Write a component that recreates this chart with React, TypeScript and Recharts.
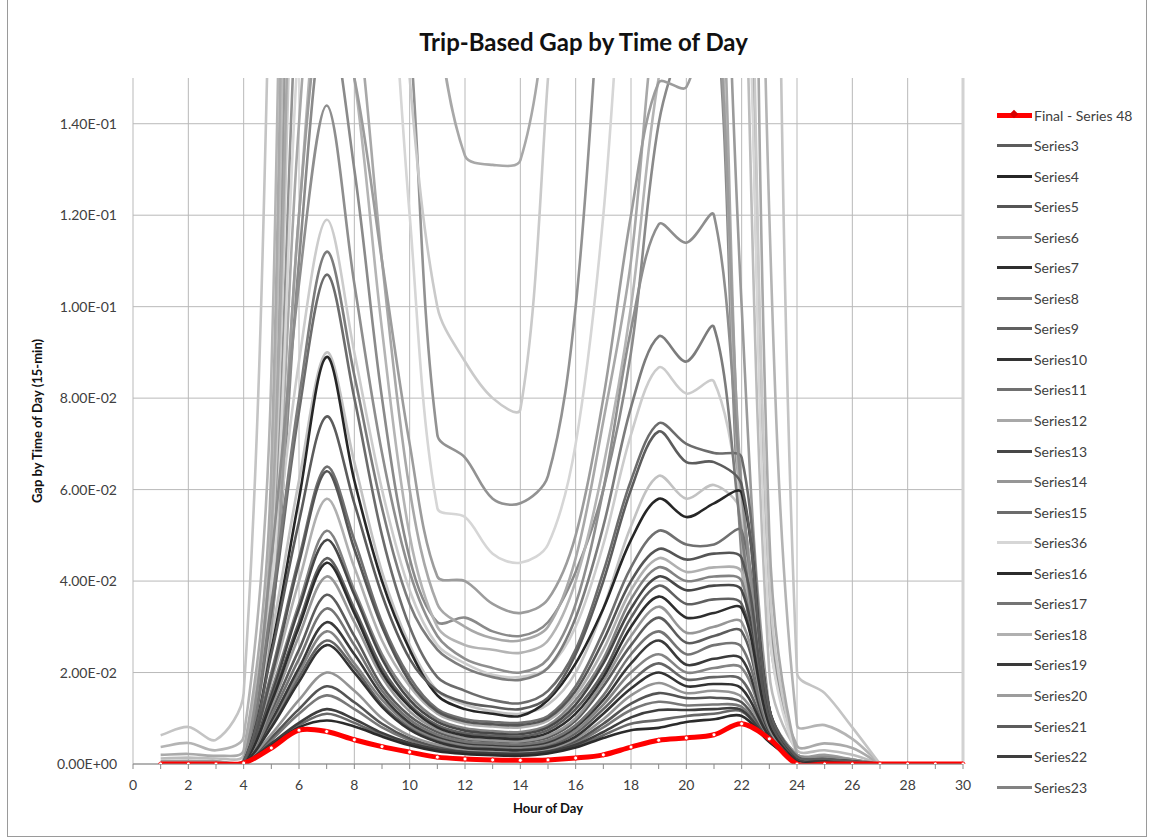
import React from 'react'
import { LineChart, Line, XAxis, YAxis, CartesianGrid, ReferenceLine } from 'recharts'

// hour of day, 1..30
const HOURS = [1, 2, 3, 4, 5, 6, 7, 8, 9, 10, 11, 12, 13, 14, 15, 16, 17, 18, 19, 20, 21, 22, 23, 24, 25, 26, 27, 28, 29, 30]
const X_TICKS = [0, 1, 2, 3, 4, 5, 6, 7, 8, 9, 10, 11, 12, 13, 14, 15, 16, 17, 18, 19, 20, 21, 22, 23, 24, 25, 26, 27, 28, 29, 30]
const X_GRID = [0, 2, 4, 6, 8, 10, 12, 14, 16, 18, 20, 22, 24, 26, 28, 30]
const Y_TICKS = [0, 0.02, 0.04, 0.06, 0.08, 0.1, 0.12, 0.14]

const final48 = [0, 0, 0, 0.0002, 0.0035, 0.0074, 0.0071, 0.0053, 0.0038, 0.0026, 0.0015, 0.0011, 0.0009, 0.0008, 0.0009, 0.0013, 0.002, 0.0037, 0.0052, 0.0057, 0.0064, 0.0088, 0.0055, 0, 0, 0, 0, 0, 0, 0]

const series3 = [0, 0, 0, 0.0005, 0.024, 0.053, 0.076, 0.057, 0.037, 0.023, 0.016, 0.0135, 0.0125, 0.012, 0.0145, 0.024, 0.04, 0.06, 0.0727, 0.066, 0.066, 0.061, 0.012, 0.0016, 0.0011, 0.0006, 0]
const series4 = [0, 0, 0, 0.0005, 0.025, 0.058, 0.089, 0.062, 0.04, 0.025, 0.015, 0.012, 0.011, 0.0105, 0.014, 0.022, 0.034, 0.049, 0.058, 0.054, 0.057, 0.0593, 0.012, 0.0015, 0.001, 0.0006, 0]
const series5 = [0, 0, 0, 0.0005, 0.019, 0.044, 0.064, 0.047, 0.03, 0.018, 0.0115, 0.0093, 0.0087, 0.0085, 0.01, 0.016, 0.027, 0.04, 0.047, 0.0447, 0.046, 0.045, 0.01, 0.0014, 0.001, 0.0005, 0]
const series6 = [0, 0, 0, 0.0006, 0.045, 0.105, 0.144, 0.105, 0.068, 0.042, 0.028, 0.023, 0.021, 0.02, 0.023, 0.035, 0.06, 0.095, 0.118, 0.114, 0.12, 0.06, 0.012, 0.002, 0.0015, 0.001, 0]
const series7 = [0, 0, 0, 0.0004, 0.0135, 0.03, 0.044, 0.033, 0.02, 0.0125, 0.008, 0.0062, 0.0057, 0.0055, 0.0068, 0.011, 0.019, 0.03, 0.0366, 0.032, 0.033, 0.034, 0.0085, 0.0013, 0.0009, 0.0005, 0]
const series8 = [0, 0, 0, 0.0006, 0.035, 0.08, 0.112, 0.085, 0.056, 0.035, 0.025, 0.021, 0.019, 0.0184, 0.021, 0.032, 0.052, 0.078, 0.0935, 0.088, 0.0955, 0.05, 0.011, 0.0018, 0.0012, 0.0008, 0]
const series9 = [0, 0, 0, 0.0004, 0.014, 0.031, 0.045, 0.034, 0.021, 0.013, 0.0085, 0.0067, 0.0062, 0.006, 0.0074, 0.012, 0.02, 0.032, 0.039, 0.035, 0.036, 0.035, 0.009, 0.0013, 0.0009, 0.0005, 0]
const series10 = [0, 0, 0, 0.0003, 0.008, 0.018, 0.026, 0.02, 0.0125, 0.0075, 0.0048, 0.0035, 0.0032, 0.003, 0.0036, 0.006, 0.011, 0.0165, 0.02, 0.017, 0.0175, 0.0165, 0.006, 0.001, 0.0007, 0.0004, 0]
const series11 = [0, 0, 0, 0.0005, 0.02, 0.045, 0.065, 0.049, 0.031, 0.019, 0.012, 0.0098, 0.0092, 0.009, 0.0105, 0.017, 0.029, 0.043, 0.051, 0.048, 0.048, 0.051, 0.011, 0.0015, 0.001, 0.0006, 0]
const series12 = [0, 0, 0, 0.0008, 0.05, 0.25, 0.4, 0.42, 0.35, 0.25, 0.165, 0.133, 0.131, 0.132, 0.17, 0.25, 0.32, 0.38, 0.42, 0.42, 0.4, 0.35, 0.05, 0.002, 0.0015, 0.001, 0]
const series13 = [0, 0, 0, 0.0004, 0.015, 0.034, 0.049, 0.037, 0.023, 0.014, 0.0092, 0.0073, 0.0067, 0.0065, 0.008, 0.013, 0.022, 0.034, 0.041, 0.038, 0.039, 0.038, 0.009, 0.0013, 0.0009, 0.0005, 0]
const series14 = [0, 0, 0, 0.0004, 0.0125, 0.028, 0.041, 0.031, 0.019, 0.0115, 0.0075, 0.0057, 0.0052, 0.005, 0.0062, 0.01, 0.018, 0.028, 0.0344, 0.0287, 0.03, 0.031, 0.008, 0.0012, 0.0008, 0.0005, 0]
const series15 = [0, 0, 0, 0.0005, 0.033, 0.077, 0.107, 0.08, 0.05, 0.03, 0.019, 0.016, 0.014, 0.0133, 0.016, 0.025, 0.042, 0.062, 0.0745, 0.07, 0.068, 0.067, 0.012, 0.0016, 0.0011, 0.0007, 0]
const series36 = [0, 0, 0, 0.0006, 0.035, 0.16, 0.22, 0.24, 0.2, 0.12, 0.056, 0.054, 0.046, 0.044, 0.048, 0.07, 0.12, 0.2, 0.24, 0.24, 0.22, 0.2, 0.03, 0.002, 0.001, 0.0006, 0]
const series16 = [0, 0, 0, 0.0003, 0.004, 0.008, 0.0095, 0.0082, 0.006, 0.0041, 0.0028, 0.0022, 0.0019, 0.0018, 0.0023, 0.0036, 0.0057, 0.0074, 0.0079, 0.0092, 0.0098, 0.0105, 0.0048, 0.0008, 0.0005, 0.0003, 0]
const series17 = [0, 0, 0, 0.0004, 0.0105, 0.023, 0.034, 0.026, 0.016, 0.0097, 0.0064, 0.0049, 0.0045, 0.0043, 0.0052, 0.0085, 0.015, 0.024, 0.029, 0.024, 0.026, 0.0256, 0.0075, 0.0012, 0.0008, 0.0004, 0]
const series18 = [0, 0, 0, 0.0005, 0.018, 0.04, 0.058, 0.043, 0.027, 0.017, 0.011, 0.0088, 0.0082, 0.008, 0.0095, 0.015, 0.025, 0.038, 0.045, 0.042, 0.043, 0.042, 0.01, 0.0014, 0.001, 0.0005, 0]
const series19 = [0, 0, 0, 0.0004, 0.0095, 0.021, 0.031, 0.024, 0.015, 0.009, 0.006, 0.0046, 0.0042, 0.004, 0.0048, 0.008, 0.014, 0.022, 0.027, 0.0217, 0.023, 0.023, 0.007, 0.0011, 0.0007, 0.0004, 0]
const series20 = [0, 0, 0, 0.0006, 0.03, 0.12, 0.17, 0.15, 0.11, 0.07, 0.041, 0.04, 0.035, 0.033, 0.036, 0.05, 0.08, 0.12, 0.149, 0.148, 0.17, 0.06, 0.012, 0.002, 0.001, 0.0006, 0]
const series21 = [0, 0, 0, 0.0004, 0.0115, 0.025, 0.037, 0.028, 0.017, 0.0105, 0.007, 0.0054, 0.005, 0.0048, 0.0058, 0.0095, 0.017, 0.026, 0.032, 0.0265, 0.028, 0.029, 0.008, 0.0012, 0.0008, 0.0004, 0]
const series22 = [0, 0, 0, 0.0003, 0.0045, 0.009, 0.012, 0.0098, 0.0068, 0.0046, 0.0032, 0.0026, 0.0023, 0.0022, 0.0027, 0.0042, 0.007, 0.0102, 0.0118, 0.0118, 0.012, 0.0118, 0.005, 0.0009, 0.0006, 0.0003, 0]
const series23 = [0, 0, 0, 0.0005, 0.016, 0.035, 0.051, 0.038, 0.024, 0.015, 0.0098, 0.0078, 0.0072, 0.007, 0.0085, 0.014, 0.023, 0.036, 0.043, 0.04, 0.041, 0.04, 0.0095, 0.0014, 0.001, 0.0005, 0]
const series24 = [0, 0, 0, 0.0006, 0.04, 0.088, 0.119, 0.09, 0.06, 0.038, 0.026, 0.022, 0.0195, 0.019, 0.021, 0.03, 0.048, 0.072, 0.0867, 0.081, 0.0836, 0.055, 0.011, 0.0018, 0.0012, 0.0008, 0]
const series25 = [0, 0, 0, 0.0005, 0.028, 0.062, 0.09, 0.066, 0.042, 0.026, 0.016, 0.013, 0.0115, 0.011, 0.013, 0.02, 0.034, 0.052, 0.063, 0.058, 0.061, 0.055, 0.011, 0.0016, 0.0011, 0.0006, 0]
const series26 = [0, 0, 0, 0.0004, 0.009, 0.02, 0.029, 0.022, 0.014, 0.0085, 0.0056, 0.0042, 0.0039, 0.0037, 0.0044, 0.0073, 0.013, 0.02, 0.024, 0.02, 0.021, 0.021, 0.007, 0.0011, 0.0007, 0.0004, 0]
const series27 = [0, 0, 0, 0.0003, 0.0085, 0.019, 0.027, 0.021, 0.013, 0.008, 0.0052, 0.0039, 0.0036, 0.0034, 0.004, 0.0067, 0.012, 0.018, 0.022, 0.0185, 0.019, 0.0184, 0.0065, 0.001, 0.0007, 0.0004, 0]
const series28 = [0, 0, 0, 0.0003, 0.0065, 0.014, 0.02, 0.016, 0.01, 0.0062, 0.0042, 0.0032, 0.0029, 0.0028, 0.0033, 0.0055, 0.0098, 0.015, 0.0177, 0.0155, 0.016, 0.0147, 0.006, 0.001, 0.0006, 0.0003, 0]
const series29 = [0, 0, 0, 0.0003, 0.0058, 0.012, 0.017, 0.0135, 0.0088, 0.0056, 0.0038, 0.003, 0.0027, 0.0026, 0.0031, 0.005, 0.0088, 0.0132, 0.0155, 0.0144, 0.0145, 0.0135, 0.0055, 0.0009, 0.0006, 0.0003, 0]
const series30 = [0, 0, 0, 0.0003, 0.0052, 0.011, 0.015, 0.012, 0.008, 0.0052, 0.0035, 0.0028, 0.0025, 0.0024, 0.0029, 0.0046, 0.008, 0.0118, 0.0136, 0.0128, 0.013, 0.0125, 0.005, 0.0009, 0.0006, 0.0003, 0]
const series31 = [0, 0, 0, 0.0003, 0.0042, 0.0085, 0.011, 0.009, 0.0063, 0.0043, 0.003, 0.0024, 0.0021, 0.002, 0.0025, 0.0039, 0.0063, 0.0088, 0.0096, 0.0105, 0.011, 0.0115, 0.005, 0.0008, 0.0005, 0.0003, 0]
const series32 = [0, 0, 0, 0.0008, 0.045, 0.22, 0.32, 0.32, 0.24, 0.15, 0.1, 0.088, 0.08, 0.0775, 0.15, 0.24, 0.3, 0.32, 0.34, 0.33, 0.3, 0.25, 0.04, 0.002, 0.001, 0.0006, 0]
const series33 = [0, 0, 0, 0.0008, 0.04, 0.18, 0.26, 0.26, 0.22, 0.16, 0.072, 0.067, 0.058, 0.057, 0.063, 0.1, 0.18, 0.25, 0.28, 0.28, 0.26, 0.22, 0.035, 0.002, 0.001, 0.0006, 0]
const series34 = [0, 0, 0, 0.0006, 0.035, 0.14, 0.2, 0.17, 0.11, 0.06, 0.035, 0.03, 0.0275, 0.027, 0.03, 0.045, 0.075, 0.11, 0.17, 0.19, 0.2, 0.055, 0.011, 0.002, 0.001, 0.0006, 0]
const series35 = [0, 0, 0, 0.0005, 0.032, 0.12, 0.18, 0.15, 0.095, 0.05, 0.03, 0.026, 0.025, 0.0243, 0.027, 0.04, 0.065, 0.1, 0.15, 0.17, 0.18, 0.05, 0.01, 0.002, 0.001, 0.0006, 0]
const series37 = [0, 0, 0, 0.0005, 0.03, 0.11, 0.165, 0.13, 0.08, 0.045, 0.031, 0.032, 0.029, 0.028, 0.031, 0.042, 0.06, 0.09, 0.14, 0.16, 0.17, 0.045, 0.01, 0.0018, 0.001, 0.0006, 0]
const series38 = [0.0063, 0.0081, 0.0053, 0.0155, 0.19, 0.5, 0.6, 0.55, 0.5, 0.45, 0.4, 0.38, 0.36, 0.36, 0.4, 0.45, 0.5, 0.55, 0.6, 0.6, 0.55, 0.5, 0.3, 0.02, 0.0155, 0.008, 0]
const series39 = [0.0037, 0.0046, 0.003, 0.006, 0.085, 0.45, 0.55, 0.5, 0.45, 0.4, 0.35, 0.32, 0.3, 0.3, 0.33, 0.38, 0.42, 0.48, 0.5, 0.5, 0.48, 0.4, 0.12, 0.0085, 0.0085, 0.0055, 0]
const series40 = [0.002, 0.0022, 0.0018, 0.003, 0.065, 0.4, 0.5, 0.45, 0.4, 0.35, 0.3, 0.28, 0.27, 0.27, 0.3, 0.34, 0.38, 0.42, 0.45, 0.45, 0.4, 0.25, 0.03, 0.004, 0.0045, 0.0035, 0]
const series41 = [0.0012, 0.0014, 0.0012, 0.002, 0.055, 0.35, 0.45, 0.4, 0.35, 0.3, 0.26, 0.24, 0.23, 0.23, 0.26, 0.3, 0.34, 0.38, 0.4, 0.4, 0.35, 0.2, 0.02, 0.003, 0.003, 0.002, 0]
const series42 = [0.0006, 0.0007, 0.0006, 0.001, 0.045, 0.3, 0.4, 0.36, 0.3, 0.26, 0.22, 0.2, 0.19, 0.19, 0.22, 0.26, 0.3, 0.33, 0.35, 0.34, 0.25, 0.1, 0.012, 0.002, 0.002, 0.001, 0]

// legend order first (Excel shows only the first 23 entries)
const SERIES = [
  { name: 'Series3', color: '#5c5c5c', values: series3 },
  { name: 'Series4', color: '#262626', values: series4 },
  { name: 'Series5', color: '#555555', values: series5 },
  { name: 'Series6', color: '#8e8e8e', values: series6 },
  { name: 'Series7', color: '#2e2e2e', values: series7 },
  { name: 'Series8', color: '#7c7c7c', values: series8 },
  { name: 'Series9', color: '#606060', values: series9 },
  { name: 'Series10', color: '#333333', values: series10 },
  { name: 'Series11', color: '#707070', values: series11 },
  { name: 'Series12', color: '#a8a8a8', values: series12 },
  { name: 'Series13', color: '#474747', values: series13 },
  { name: 'Series14', color: '#969696', values: series14 },
  { name: 'Series15', color: '#6c6c6c', values: series15 },
  { name: 'Series36', color: '#d6d6d6', values: series36 },
  { name: 'Series16', color: '#2b2b2b', values: series16 },
  { name: 'Series17', color: '#747474', values: series17 },
  { name: 'Series18', color: '#b0b0b0', values: series18 },
  { name: 'Series19', color: '#3a3a3a', values: series19 },
  { name: 'Series20', color: '#9c9c9c', values: series20 },
  { name: 'Series21', color: '#5c5c5c', values: series21 },
  { name: 'Series22', color: '#3e3e3e', values: series22 },
  { name: 'Series23', color: '#828282', values: series23 },
  { name: 'Series24', color: '#cccccc', values: series24 },
  { name: 'Series25', color: '#c2c2c2', values: series25 },
  { name: 'Series26', color: '#848484', values: series26 },
  { name: 'Series27', color: '#646464', values: series27 },
  { name: 'Series28', color: '#949494', values: series28 },
  { name: 'Series29', color: '#545454', values: series29 },
  { name: 'Series30', color: '#787878', values: series30 },
  { name: 'Series31', color: '#686868', values: series31 },
  { name: 'Series32', color: '#cacaca', values: series32 },
  { name: 'Series33', color: '#929292', values: series33 },
  { name: 'Series34', color: '#a8a8a8', values: series34 },
  { name: 'Series35', color: '#b4b4b4', values: series35 },
  { name: 'Series37', color: '#8a8a8a', values: series37 },
  { name: 'Series38', color: '#c4c4c4', values: series38 },
  { name: 'Series39', color: '#b4b4b4', values: series39 },
  { name: 'Series40', color: '#aaaaaa', values: series40 },
  { name: 'Series41', color: '#bcbcbc', values: series41 },
  { name: 'Series42', color: '#9a9a9a', values: series42 },
]

const RED = '#ff0000'
const FONT = 'Lato, "Open Sans", sans-serif'

// Excel-like smoothed line: bezier segments, tangents weighted by chord length
function excelSmooth(context: any) {
  let pts: number[][] = []
  return {
    areaStart() {},
    areaEnd() {},
    lineStart() {
      pts = []
    },
    point(x: number, y: number) {
      pts.push([+x, +y])
    },
    lineEnd() {
      const n = pts.length
      if (!n) return
      context.moveTo(pts[0][0], pts[0][1])
      for (let i = 0; i < n - 1; i++) {
        const p0 = pts[i - 1] || pts[i]
        const p1 = pts[i]
        const p2 = pts[i + 1]
        const p3 = pts[i + 2] || p2
        const d01 = Math.hypot(p1[0] - p0[0], p1[1] - p0[1])
        const d12 = Math.hypot(p2[0] - p1[0], p2[1] - p1[1])
        const d23 = Math.hypot(p3[0] - p2[0], p3[1] - p2[1])
        const a = d01 + d12 > 0 ? d12 / (d01 + d12) : 0.5
        const b = d12 + d23 > 0 ? d12 / (d12 + d23) : 0.5
        context.bezierCurveTo(
          p1[0] + ((p2[0] - p0[0]) * a) / 3,
          p1[1] + ((p2[1] - p0[1]) * a) / 3,
          p2[0] - ((p3[0] - p1[0]) * b) / 3,
          p2[1] - ((p3[1] - p1[1]) * b) / 3,
          p2[0],
          p2[1],
        )
      }
    },
  }
}

function toRows(values: number[]) {
  return values.map((v, i) => ({ hour: HOURS[i], value: v }))
}

function sci(v: number) {
  const [m, e] = v.toExponential(2).split('e')
  const n = parseInt(e, 10)
  return `${m}E${n < 0 ? '-' : '+'}${String(Math.abs(n)).padStart(2, '0')}`
}

function LegendBox() {
  const entries = [{ name: 'Final - Series 48', color: RED }, ...SERIES.slice(0, 22)]
  return (
    <>
      {entries.map((e, i) => {
        const isRed = e.color === RED
        const cy = 115 + i * 30.55
        return (
          <div key={e.name} style={{ position: 'absolute', left: 997, top: cy - 10, height: 20, display: 'flex', alignItems: 'center' }}>
            <div style={{ position: 'relative', width: 35, height: isRed ? 5 : 3, background: e.color }}>
              {isRed && (
                <div style={{ position: 'absolute', left: 14, top: -2, width: 6, height: 6, background: '#d80000', transform: 'rotate(45deg)' }} />
              )}
            </div>
            <span style={{ marginLeft: 2, fontSize: 14, color: '#404040', fontFamily: FONT, whiteSpace: 'nowrap' }}>{e.name}</span>
          </div>
        )
      })}
    </>
  )
}

export default function App() {
  return (
    <div style={{ position: 'absolute', left: 0, top: 0, width: 1151, height: 840, background: '#fff', fontFamily: FONT }}>
      <div style={{ position: 'absolute', left: 7, top: 0, width: 1138, height: 836, border: '1px solid #9a9a9a', borderTop: 'none' }} />
      <div style={{ position: 'absolute', left: 8, width: 1151, top: 26, textAlign: 'center', fontSize: 24, fontWeight: 700, color: '#111', lineHeight: '32px' }}>
        Trip-Based Gap by Time of Day
      </div>
      <div style={{ position: 'absolute', left: 37, top: 421, transform: 'translate(-50%, -50%) rotate(-90deg)', fontSize: 13, fontWeight: 700, color: '#111', whiteSpace: 'nowrap' }}>
        Gap by Time of Day (15-min)
      </div>
      <div style={{ position: 'absolute', left: 548, top: 808, transform: 'translate(-50%, -50%)', fontSize: 13, fontWeight: 700, color: '#111', whiteSpace: 'nowrap' }}>
        Hour of Day
      </div>

      <div style={{ position: 'absolute', left: 0, top: 0 }}>
        <LineChart width={1151} height={840} margin={{ top: 78, right: 188, bottom: 46, left: 8 }}>
          <CartesianGrid stroke="#b9b9b9" horizontalValues={Y_TICKS} verticalValues={X_GRID} />
          <XAxis
            dataKey="hour"
            type="number"
            domain={[0, 30]}
            ticks={X_TICKS}
            interval={0}
            height={30}
            tickSize={5}
            tickMargin={11}
            stroke="#8a8a8a"
            tick={{ fill: '#404040', fontSize: 14, fontFamily: FONT }}
            tickFormatter={(v: number) => (v % 2 === 0 ? String(v) : '')}
          />
          <YAxis
            type="number"
            domain={[0, 0.15]}
            allowDataOverflow
            ticks={Y_TICKS}
            interval={0}
            width={125}
            axisLine={false}
            tickLine={false}
            tickSize={6}
            tickMargin={10}
            tick={{ fill: '#404040', fontSize: 14, fontFamily: FONT }}
            tickFormatter={sci}
          />
          <ReferenceLine x={30} stroke="#d2d2d2" strokeWidth={3} />
          {SERIES.slice()
            .reverse()
            .map((s) => (
              <Line
                key={s.name}
                data={toRows(s.values)}
                dataKey="value"
                name={s.name}
                type={excelSmooth as any}
                stroke={s.color}
                strokeWidth={2.6}
                dot={false}
                isAnimationActive={false}
              />
            ))}
          <Line
            data={toRows(final48)}
            dataKey="value"
            name="Final - Series 48"
            type={excelSmooth as any}
            stroke={RED}
            strokeWidth={5}
            dot={{ r: 2, fill: '#ffffff', stroke: RED, strokeWidth: 0.8 }}
            isAnimationActive={false}
          />
        </LineChart>
      </div>

      <LegendBox />
    </div>
  )
}
